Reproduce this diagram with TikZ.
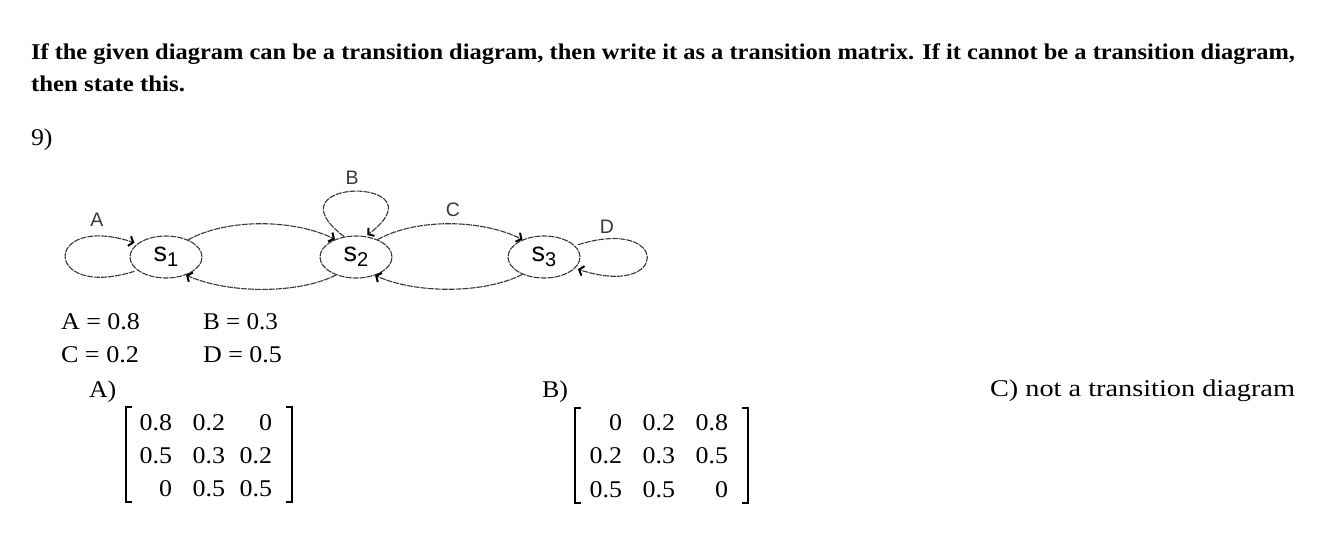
\documentclass[tikz,border=0pt]{standalone}
\usepackage{fontspec}
\usepackage{graphicx}
\setmainfont{Liberation Serif}
\newfontfamily\bodyfont[FakeStretch=1.08]{Liberation Serif}
\newfontfamily\lblfont{Liberation Sans}
\usetikzlibrary{shapes.geometric,arrows.meta}
\newcommand{\fitw}[2]{\resizebox{#1}{\height}{#2}}
\definecolor{dgm}{gray}{0.22}
\begin{document}
\begin{tikzpicture}[x=1pt,y=-1pt,
  txt/.style={anchor=base west,inner sep=0pt,outer sep=0pt},
  hdr/.style={txt,font=\fontsize{22.5}{26}\selectfont\bfseries},
  body/.style={txt,font=\bodyfont\fontsize{24}{28}\selectfont},
  cell/.style={anchor=base east,inner sep=0pt,outer sep=0pt,font=\bodyfont\fontsize{24}{28}\selectfont},
  state/.style={ellipse,draw=dgm,line width=1.1pt,dash pattern=on 6pt off 1pt,minimum width=72pt,minimum height=42pt,inner sep=0pt,text=black,font=\lblfont},
  edge/.style={draw=dgm,line width=1.1pt,dash pattern=on 6pt off 1pt,-{Straight Barb[length=4pt,width=10pt,line width=2pt,color=black]}},
  elbl/.style={font=\lblfont\fontsize{19.5}{22}\selectfont,text=dgm,inner sep=0pt},
  brk/.style={line width=1.6pt}]
\useasboundingbox (0,0) rectangle (1336,542);
% header
\node[hdr] (h1) at (31,59) {\fitw{1264pt}{If the given diagram can be a transition diagram, then write it as a transition matrix. If it cannot be a transition diagram,}};
\node[hdr] (h2) at (31,91) {\fitw{154pt}{then state this.}};
\node[body] (n9) at (31,145) {9)};
% states
\node[state] (s1) at (166,257) {{\fontsize{27}{28}\selectfont s}\raisebox{-5pt}{\fontsize{20}{20}\selectfont 1}};
\node[state] (s2) at (356,257) {{\fontsize{27}{28}\selectfont s}\raisebox{-5pt}{\fontsize{20}{20}\selectfont 2}};
\node[state] (s3) at (544,257) {{\fontsize{27}{28}\selectfont s}\raisebox{-5pt}{\fontsize{20}{20}\selectfont 3}};
% connectors
\draw[edge] (s1.38) .. controls +(40,-22) and +(-40,-20) .. (s2.140);
\draw[edge] (s2.222) .. controls +(-40,20) and +(40,18) .. (s1.318);
\draw[edge] (s2.39) .. controls +(40,-22) and +(-40,-20) .. (s3.141);
\draw[edge] (s3.219) .. controls +(-40,20) and +(40,18) .. (s2.316);
\draw[edge,shorten <=3pt,shorten >=3pt] (s1.205) .. controls +(-95,30) and +(-95,-31) .. (s1.155);
\draw[edge,shorten >=2pt] (s2.120) .. controls +(-80,-60) and +(80,-60) .. (s2.65);
\draw[edge,shorten <=3pt,shorten >=3pt] (s3.20) .. controls +(95,-30) and +(95,31) .. (s3.-20);
% connector labels
\node[elbl] (la) at (97,220) {A};
\node[elbl] (lb) at (352,178) {B};
\node[elbl] (lc) at (453,210) {C};
\node[elbl] (ld) at (607,227) {D};
% values
\node[body] (va) at (61,329) {\fitw{79pt}{A = 0.8}};
\node[body] (vb) at (203,329) {\fitw{75pt}{B = 0.3}};
\node[body] (vc) at (61,362) {\fitw{78pt}{C = 0.2}};
\node[body] (vd) at (203,362) {\fitw{79pt}{D = 0.5}};
% option A
\node[body] (oa) at (89,397) {A)};
\draw[brk] (132,407) -- (126,407) -- (126,502) -- (132,502);
\draw[brk] (286,407) -- (292,407) -- (292,502) -- (286,502);
\node[cell] (a11) at (172,430) {0.8};
\node[cell] (a12) at (225,430) {0.2};
\node[cell] (a13) at (272,430) {0};
\node[cell] (a21) at (172,463) {0.5};
\node[cell] (a22) at (225,463) {0.3};
\node[cell] (a23) at (272,463) {0.2};
\node[cell] (a31) at (172,496) {0};
\node[cell] (a32) at (225,496) {0.5};
\node[cell] (a33) at (272,496) {0.5};
% option B
\node[body] (ob) at (542,397) {B)};
\draw[brk] (581,408) -- (575,408) -- (575,503) -- (581,503);
\draw[brk] (742,408) -- (748,408) -- (748,503) -- (742,503);
\node[cell] (b11) at (622,430) {0};
\node[cell] (b12) at (675,430) {0.2};
\node[cell] (b13) at (728,430) {0.8};
\node[cell] (b21) at (622,463) {0.2};
\node[cell] (b22) at (675,463) {0.3};
\node[cell] (b23) at (728,463) {0.5};
\node[cell] (b31) at (622,497) {0.5};
\node[cell] (b32) at (675,497) {0.5};
\node[cell] (b33) at (728,497) {0};
% option C
\node[body] (oc) at (990,396) {\fitw{305pt}{C) not a transition diagram}};
\end{tikzpicture}
\end{document}
